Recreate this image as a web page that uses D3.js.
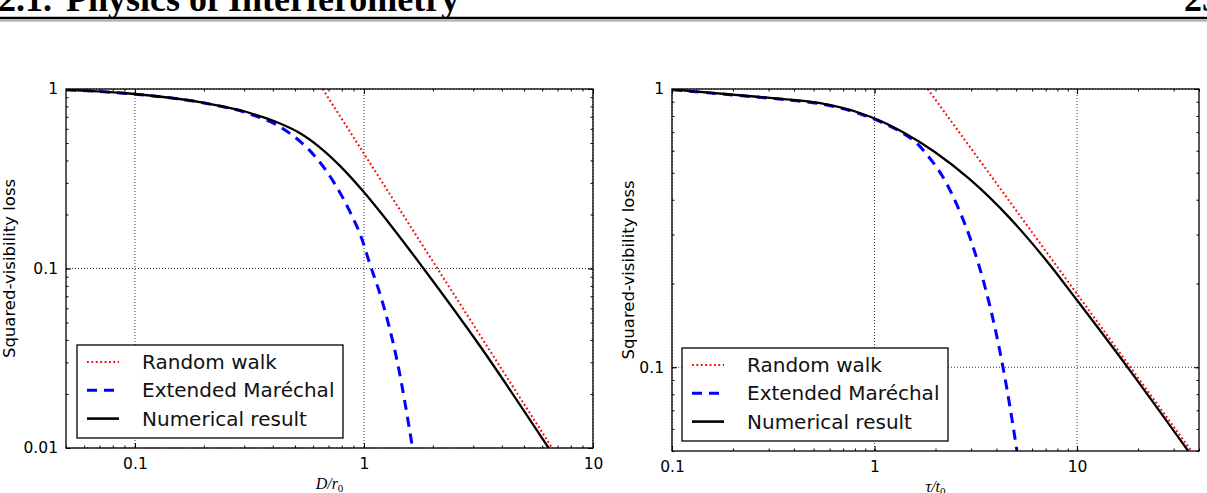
<!DOCTYPE html>
<html>
<head>
<meta charset="utf-8">
<style>
  body { margin: 0; background: #fff; }
  svg { display: block; }
  .tick text { fill: #000; }
</style>
</head>
<body>
<div id="chart"></div>
<script src="https://cdn.jsdelivr.net/npm/d3@7"></script>
<script>
// ---- data ----
// left panel: loss vs D/r0
var dr0Num   = [0.05, 0.1, 0.192, 0.318, 0.430, 0.526, 0.643, 0.786, 0.99, 1.30, 1.81, 3.21, 6.4];
var lossNumL = [0.99, 0.938, 0.846, 0.735, 0.642, 0.567, 0.472, 0.373, 0.270, 0.176, 0.101, 0.037, 0.01];
var dr0Mar   = [0.05, 0.1, 0.192, 0.318, 0.430, 0.526, 0.605, 0.741, 0.88, 0.974, 1.056, 1.2, 1.4, 1.63];
var lossMarL = [0.99, 0.936, 0.843, 0.726, 0.615, 0.51, 0.428, 0.30, 0.20, 0.149, 0.108, 0.066, 0.030, 0.01];
var dr0Rw    = [0.66, 6.63];
var lossRwL  = [1.0, 0.01];

// right panel: loss vs tau/t0
var tauNum   = [0.1, 0.272, 0.383, 0.538, 0.846, 1.073, 1.377, 2.0, 2.94, 4.63, 7.28, 10, 17.4, 35.4];
var lossNumR = [0.996, 0.936, 0.916, 0.889, 0.820, 0.767, 0.700, 0.591, 0.475, 0.345, 0.235, 0.174, 0.102, 0.05];
var tauMar   = [0.1, 0.272, 0.383, 0.538, 0.846, 1.073, 1.377, 1.6, 1.8, 2.26, 2.63, 2.94, 3.29, 3.69, 4.13, 4.5, 5.05];
var lossMarR = [0.994, 0.933, 0.912, 0.885, 0.815, 0.761, 0.695, 0.643, 0.585, 0.46, 0.364, 0.296, 0.230, 0.169, 0.117, 0.084, 0.05];
var tauRw    = [1.83, 36.7];
var lossRwR  = [1.0, 0.05];

// ticks
var leftXTicks = [0.1, 1, 10],  leftXLabels = ["0.1", "1", "10"];
var leftYTicks = [0.01, 0.1, 1], leftYLabels = ["0.01", "0.1", "1"];
var rightXTicks = [0.1, 1, 10], rightXLabels = ["0.1", "1", "10"];
var rightYTicks = [0.1, 1],     rightYLabels = ["0.1", "1"];

var legendNames = ["Random walk", "Extended Mar\u00e9chal", "Numerical result"];

var width = 1207, height = 493;
var sans = "'DejaVu Sans', Verdana, sans-serif";
var serif = "'Liberation Serif', 'Times New Roman', serif";

var svg = d3.select("#chart").append("svg")
  .attr("width", width)
  .attr("height", height);

////////// page header //////////
function headText(x, s) {
  svg.append("text")
    .attr("x", x).attr("y", 11)
    .attr("font-family", serif)
    .attr("font-weight", "bold").attr("font-size", 36)
    .text(s);
}
headText(-2, "2.1.");
headText(66, "Physics of Interferometry");
headText(1184, "23");
svg.append("line").attr("x1", 0).attr("x2", width).attr("y1", 18).attr("y2", 18)
  .attr("stroke", "#000").attr("stroke-width", 2.5);
svg.append("line").attr("x1", 0).attr("x2", width).attr("y1", 20.8).attr("y2", 20.8)
  .attr("stroke", "#999").attr("stroke-width", 1.2);

////////// panels //////////
function drawPanel(p) {
  var x = d3.scaleLog().domain(p.xDomain).range([p.x0, p.x1]);
  var y = d3.scaleLog().domain(p.yDomain).range([p.y1, p.y0]);
  var g = svg.append("g");

  var clipId = "clip" + p.id;
  svg.append("clipPath").attr("id", clipId)
    .append("rect")
    .attr("x", p.x0).attr("y", p.y0)
    .attr("width", p.x1 - p.x0).attr("height", p.y1 - p.y0);

  // grid
  g.selectAll(".gx").data(p.xTicks).enter().append("line")
    .attr("x1", x).attr("x2", x).attr("y1", p.y0).attr("y2", p.y1)
    .attr("stroke", "#000").attr("stroke-width", 0.8).attr("stroke-dasharray", "1,2");
  g.selectAll(".gy").data(p.yTicks).enter().append("line")
    .attr("y1", y).attr("y2", y).attr("x1", p.x0).attr("x2", p.x1)
    .attr("stroke", "#000").attr("stroke-width", 0.8).attr("stroke-dasharray", "1,2");

  // curves
  var line = d3.line()
    .x(function (d) { return x(d[0]); })
    .y(function (d) { return y(d[1]); })
    .curve(d3.curveMonotoneX);
  var curves = g.append("g").attr("clip-path", "url(#" + clipId + ")");

  curves.append("path")
    .datum(d3.zip(p.rwX, p.rwY))
    .attr("d", line)
    .attr("fill", "none").attr("stroke", "red")
    .attr("stroke-width", 2).attr("stroke-dasharray", "1.8,2.6");
  curves.append("path")
    .datum(d3.zip(p.marX, p.marY))
    .attr("d", line)
    .attr("fill", "none").attr("stroke", "#0000ff")
    .attr("stroke-width", 3).attr("stroke-dasharray", "10,7");
  curves.append("path")
    .datum(d3.zip(p.numX, p.numY))
    .attr("d", line)
    .attr("fill", "none").attr("stroke", "#000")
    .attr("stroke-width", 2.3);

  // frame
  g.append("rect")
    .attr("x", p.x0).attr("y", p.y0)
    .attr("width", p.x1 - p.x0).attr("height", p.y1 - p.y0)
    .attr("fill", "none").attr("stroke", "#000").attr("stroke-width", 1.3);

  // ticks, all inside, on four sides
  var xMinor = x.ticks(), yMinor = y.ticks();
  function ax(fn, scale, pos, transform, labels, ticks) {
    var a = g.append("g").attr("transform", transform);
    a.call(fn(scale).tickValues(pos === "minor" ? (scale === x ? xMinor : yMinor) : ticks)
      .tickSize(pos === "minor" ? -2.5 : -5)
      .tickPadding(fn === d3.axisBottom ? 9.5 : 8)
      .tickFormat(labels ? function (d, i) { return labels[i]; } : ""));
    a.select(".domain").remove();
    a.selectAll("line").attr("stroke", "#000").attr("stroke-width", 1);
    a.attr("font-family", sans).attr("font-size", 15.5);
  }
  ax(d3.axisBottom, x, "minor", "translate(0," + p.y1 + ")");
  ax(d3.axisTop, x, "minor", "translate(0," + p.y0 + ")");
  ax(d3.axisLeft, y, "minor", "translate(" + p.x0 + ",0)");
  ax(d3.axisRight, y, "minor", "translate(" + p.x1 + ",0)");
  ax(d3.axisBottom, x, "major", "translate(0," + p.y1 + ")", p.xLabels, p.xTicks);
  ax(d3.axisTop, x, "major", "translate(0," + p.y0 + ")", null, p.xTicks);
  ax(d3.axisLeft, y, "major", "translate(" + p.x0 + ",0)", p.yLabels, p.yTicks);
  ax(d3.axisRight, y, "major", "translate(" + p.x1 + ",0)", null, p.yTicks);

  // axis titles
  svg.append("text")
    .attr("transform", "translate(" + p.yTitleX + "," + ((p.y0 + p.y1) / 2) + ") rotate(-90)")
    .attr("text-anchor", "middle")
    .attr("font-family", sans).attr("font-size", 16.5)
    .text("Squared-visibility loss");
  var xt = svg.append("text")
    .attr("x", (p.x0 + p.x1) / 2).attr("y", p.y1 + 41)
    .attr("text-anchor", "middle")
    .attr("font-family", serif)
    .attr("font-style", "italic").attr("font-size", 16);
  xt.append("tspan").text(p.xTitle);
  xt.append("tspan").attr("font-size", 11).attr("dy", 3).attr("font-style", "normal").text("0");

  // legend
  var lg = g.append("g").attr("transform", "translate(" + p.legX + "," + p.legY + ")");
  lg.append("rect").attr("width", 266).attr("height", 93)
    .attr("fill", "#fff").attr("stroke", "#000").attr("stroke-width", 1.3);
  var styles = [
    { c: "red", w: 2, d: "1.8,2.6" },
    { c: "#0000ff", w: 3, d: "10,7" },
    { c: "#000", w: 2.6, d: null }
  ];
  legendNames.forEach(function (name, i) {
    var yy = 17 + i * 28.3;
    lg.append("line")
      .attr("x1", 10).attr("x2", 42).attr("y1", yy).attr("y2", yy)
      .attr("stroke", styles[i].c).attr("stroke-width", styles[i].w)
      .attr("stroke-dasharray", styles[i].d);
    lg.append("text")
      .attr("x", 65).attr("y", yy).attr("dy", "0.35em")
      .attr("font-family", sans).attr("font-size", 20)
      .attr("fill", "#111")
      .text(name);
  });
}

drawPanel({
  id: "L", x0: 66, x1: 593, y0: 89, y1: 448,
  xDomain: [0.05, 10], yDomain: [0.01, 1],
  xTicks: leftXTicks, xLabels: leftXLabels, yTicks: leftYTicks, yLabels: leftYLabels,
  numX: dr0Num, numY: lossNumL, marX: dr0Mar, marY: lossMarL, rwX: dr0Rw, rwY: lossRwL,
  yTitleX: 15, xTitle: "D/r", legX: 77, legY: 345
});

drawPanel({
  id: "R", x0: 672, x1: 1199, y0: 89, y1: 451,
  xDomain: [0.1, 40], yDomain: [0.05, 1],
  xTicks: rightXTicks, xLabels: rightXLabels, yTicks: rightYTicks, yLabels: rightYLabels,
  numX: tauNum, numY: lossNumR, marX: tauMar, marY: lossMarR, rwX: tauRw, rwY: lossRwR,
  yTitleX: 634, xTitle: "\u03c4/t", legX: 682, legY: 348
});
</script>
</body>
</html>
